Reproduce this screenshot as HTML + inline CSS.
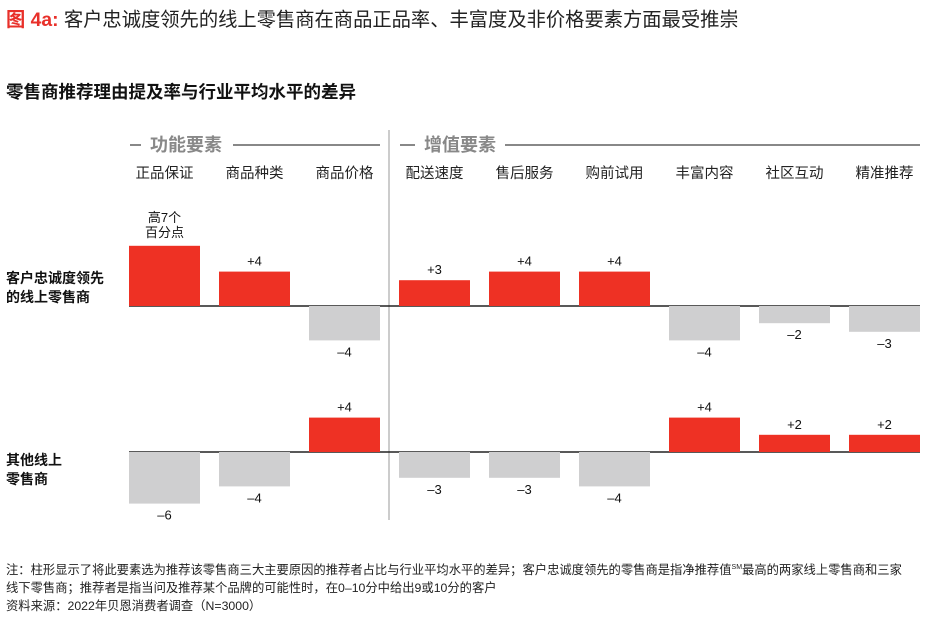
<!DOCTYPE html>
<html><head><meta charset="utf-8">
<style>
body{margin:0;width:950px;height:613px;background:#fff;font-family:"Liberation Sans","Noto Sans CJK SC",sans-serif;overflow:hidden}
svg text{font-family:"Liberation Sans","Noto Sans CJK SC",sans-serif}
</style></head><body>
<svg id="c" width="950" height="613">
<text x="6" y="26" font-size="19.3" fill="#222"><tspan fill="#e8302a" font-weight="bold">图 4a:</tspan> 客户忠诚度领先的线上零售商在商品正品率、丰富度及非价格要素方面最受推崇</text>
<text x="6" y="98" font-size="17.5" font-weight="bold" fill="#111">零售商推荐理由提及率与行业平均水平的差异</text>
<g>
<line x1="130" y1="145" x2="141" y2="145" stroke="#888" stroke-width="2"/>
<text x="150" y="151" font-size="18" font-weight="bold" fill="#888">功能要素</text>
<line x1="233" y1="145" x2="380" y2="145" stroke="#888" stroke-width="2"/>
</g>
<g>
<line x1="400" y1="145" x2="415" y2="145" stroke="#888" stroke-width="2"/>
<text x="424" y="151" font-size="18" font-weight="bold" fill="#888">增值要素</text>
<line x1="505" y1="145" x2="920" y2="145" stroke="#888" stroke-width="2"/>
</g>
<line x1="389" y1="130" x2="389" y2="520" stroke="#bbb" stroke-width="1.5"/>
<text x="6" y="283" font-size="14" font-weight="bold" fill="#111"><tspan x="6">客户忠诚度领先</tspan><tspan x="6" dy="19">的线上零售商</tspan></text>
<text x="6" y="465" font-size="14" font-weight="bold" fill="#111"><tspan x="6">其他线上</tspan><tspan x="6" dy="19">零售商</tspan></text>
</svg>
<div style="position:absolute;left:6px;top:559px;font-size:12.3px;line-height:18px;color:#222;width:936px">注：柱形显示了将此要素选为推荐该零售商三大主要原因的推荐者占比与行业平均水平的差异；客户忠诚度领先的零售商是指净推荐值<sup style="font-size:7px">SM</sup>最高的两家线上零售商和三家<br>线下零售商；推荐者是指当问及推荐某个品牌的可能性时，在0–10分中给出9或10分的客户<br>资料来源：2022年贝恩消费者调查（N=3000）</div>
<script>
const categories=["正品保证","商品种类","商品价格","配送速度","售后服务","购前试用","丰富内容","社区互动","精准推荐"];
const leaderValues=[7,4,-4,3,4,4,-4,-2,-3];
const otherValues=[-6,-4,4,-3,-3,-4,4,2,2];
const svg=document.getElementById('c');
const NS='http://www.w3.org/2000/svg';
const colX=i=>129+i*90, barW=71, unit=8.6;
function mk(t,a){const e=document.createElementNS(NS,t);for(const k in a)e.setAttribute(k,a[k]);svg.appendChild(e);return e;}
categories.forEach((c,i)=>{
 const t=mk('text',{x:colX(i)+barW/2,y:178,'font-size':14.5,fill:'#222','text-anchor':'middle'});
 t.textContent=c;
 
 
});
function row(vals,base,name){
 const ax=mk('line',{x1:129,x2:920,y1:base,y2:base,stroke:'#222','stroke-width':1.5});
 
 
 vals.forEach((v,i)=>{
  const h=Math.abs(v)*unit, y=v>0?base-h:base;
  const r=mk('rect',{x:colX(i),y:y,width:barW,height:h,fill:v>0?'#ee3124':'#cfcfd0'});
  
  
  const lab=(v>0?'+':'–')+Math.abs(v);
  if(name==='leaders'&&i===0){
   const t=mk('text',{x:colX(i)+barW/2,y:y-24,'font-size':13,fill:'#111','text-anchor':'middle'});
   t.innerHTML='<tspan x="'+(colX(i)+barW/2)+'">高'+v+'个</tspan><tspan x="'+(colX(i)+barW/2)+'" dy="15">百分点</tspan>';
   
   
  } else {
   const t=mk('text',{x:colX(i)+barW/2,y:v>0?y-6:y+h+16,'font-size':13,fill:'#111','text-anchor':'middle'});
   t.textContent=lab;
   
   
  }
 });
}
row(leaderValues,306,'leaders');
row(otherValues,452,'others');
</script>
</body></html>
